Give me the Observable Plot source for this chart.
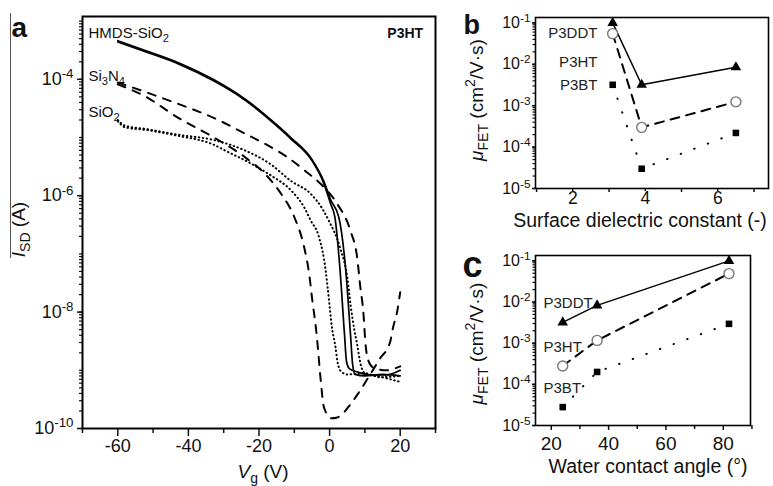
<!DOCTYPE html>
<html>
<head>
<meta charset="utf-8">
<script src="https://cdn.jsdelivr.net/npm/d3@7"></script>
<script src="https://cdn.jsdelivr.net/npm/@observablehq/plot@0.6"></script>
<style>
  html, body { margin: 0; padding: 0; background: #fff; }
  #fig { position: relative; width: 773px; height: 486px; overflow: hidden; background: #fff; }
  .panel { position: absolute; }
  .bar { position: absolute; left: 10px; top: 13px; height: 245px; border-left: 1px solid #555; }
</style>
</head>
<body>
<div id="fig">
  <div class="bar"></div>
  <div class="panel" id="pa" style="left:0;top:0"></div>
  <div class="panel" id="pb" style="left:455px;top:0"></div>
  <div class="panel" id="pc" style="left:455px;top:240px"></div>
</div>
<script>
const FONT = '"Liberation Sans", Arial, Helvetica, sans-serif';

// ---------- Panel a: transfer curves of P3HT (|I_SD| vs V_g) ----------
const hmds1V = [-60, -52, -43, -33, -24, -15, -11, -5, -1.6, 0.3, 1.5, 2.9, 4.2, 4.8, 5.6, 8, 12, 16, 20];
const hmds1I = [4.37e-4, 2.95e-4, 1.86e-4, 9.5e-5, 4.4e-5, 1.58e-5, 9.5e-6, 4.0e-6, 1.6e-6, 7.2e-7, 4.3e-7, 5.9e-8, 4.3e-9, 1.4e-9, 1.07e-9, 9.3e-10, 8.3e-10, 8.3e-10, 1.0e-9];
const hmds2V = [-60, -52, -43, -33, -24, -15, -11, -5, -1.6, 0.3, 2.6, 4.5, 5.9, 6.5, 7.2, 10, 15, 20];
const hmds2I = [4.6e-4, 3.1e-4, 1.95e-4, 1.0e-4, 4.6e-5, 1.66e-5, 1.0e-5, 4.2e-6, 1.75e-6, 8.5e-7, 4.3e-7, 5.9e-8, 4.3e-9, 1.3e-9, 8.5e-10, 8.0e-10, 8.5e-10, 8.0e-10];
const sin1V = [-60, -52, -43, -33, -24, -15, -12, -7, -1.6, 2.2, 5.9, 7.8, 8.7, 9.6, 10.1, 11, 12.5, 16, 20];
const sin1I = [8.8e-5, 6.0e-5, 3.8e-5, 2.2e-5, 1.17e-5, 6.0e-6, 4.6e-6, 2.7e-6, 1.4e-6, 7.2e-7, 2.5e-7, 8.7e-8, 2.7e-8, 9.3e-9, 3.2e-9, 1.45e-9, 1.1e-9, 1.0e-9, 1.17e-9];
const sin2V = [-60, -52, -43, -33, -24, -18.4, -13.7, -10, -7.2, -5.8, -4.9, -3.9, -3.5, -2.5, -1.6, 0.5, 2.2, 5.9, 8.1, 11.5, 14.3, 17.1, 18, 19.2, 20];
const sin2I = [8.2e-5, 5.0e-5, 2.2e-5, 1.02e-5, 4.6e-6, 2.4e-6, 1.07e-6, 4.3e-7, 1.3e-7, 4.6e-8, 1.6e-8, 5.5e-9, 3.2e-9, 6.6e-10, 2.3e-10, 1.5e-10, 1.55e-10, 2.6e-10, 4.0e-10, 8.5e-10, 1.6e-9, 3.0e-9, 5.5e-9, 1.07e-8, 2.2e-8];
const sio1V = [-60, -58, -52, -43, -33, -24, -16.5, -11, -5.3, -2, -0.2, 3, 5, 6, 7, 7.8, 8.8, 10, 15, 20];
const sio1I = [2.0e-5, 1.6e-5, 1.4e-5, 1.12e-5, 9.1e-6, 6.0e-6, 3.4e-6, 1.8e-6, 1.07e-6, 5.9e-7, 3.7e-7, 1.26e-7, 4.0e-8, 1.26e-8, 5.0e-9, 2.8e-9, 1.26e-9, 8.9e-10, 7.6e-10, 6.3e-10];
const sio2V = [-60, -58, -52, -43, -33, -28.7, -22, -18.4, -16.5, -10.9, -7.2, -5.3, -3, -1.1, -0.6, 0.8, 1.7, 2.2, 3.1, 5, 10, 14.3, 20];
const sio2I = [1.9e-5, 1.5e-5, 1.35e-5, 1.07e-5, 7.6e-6, 5.6e-6, 3.5e-6, 2.6e-6, 2.2e-6, 1.23e-6, 6.3e-7, 3.7e-7, 1.95e-7, 5.1e-8, 2.8e-8, 4.8e-9, 2.45e-9, 1.45e-9, 9.8e-10, 8.5e-10, 8.9e-10, 7.6e-10, 8.0e-10];

const aXTicks = [-60, -40, -20, 0, 20];
const aXMinor = [-70, -50, -30, -10, 10, 30];
const aYTicks = [1e-4, 1e-6, 1e-8, 1e-10];
const aLabels = ["HMDS-SiO_{2}", "Si_{3}N_{4}", "SiO_{2}"];
const aLabelV = [-68.3, -68.3, -68.3];
const aLabelI = [6.24e-4, 1.135e-4, 2.74e-5];
const aTag = ["P3HT"];
const aTagV = [26.5];
const aTagI = [6.24e-4];

// ---------- Panel b: mobility vs surface dielectric constant ----------
const bX = [3.1, 3.9, 6.5];
const bP3DDT = [0.1, 3.2e-3, 8.5e-3];
const bP3HT = [0.055, 3.0e-4, 1.24e-3];
const bP3BT = [3.2e-3, 3.0e-5, 2.2e-4];
const bXTicks = [2, 4, 6];
const bXMinor = [1, 3, 5, 7];
const bLabels = ["P3DDT", "P3HT", "P3BT"];
const bLabelX = [2.68, 2.68, 2.68];
const bLabelY = [0.0555, 0.0112, 0.0031];

// ---------- Panel c: mobility vs water contact angle ----------
const cX = [24, 36, 82];
const cP3DDT = [3.2e-3, 8.3e-3, 0.1];
const cP3HT = [2.8e-4, 1.17e-3, 0.049];
const cP3BT = [2.8e-5, 2.0e-4, 2.95e-3];
const cXTicks = [20, 40, 60, 80];
const cXMinor = [30, 50, 70, 90];
const cLabels = ["P3DDT", "P3HT", "P3BT"];
const cLabelX = [17.3, 17.3, 17.3];
const cLabelY = [9.2e-3, 8.0e-4, 7.9e-5];

const bcYTicks = [1e-1, 1e-2, 1e-3, 1e-4, 1e-5];

// ---------- helpers ----------
const zip = (xs, ys, extra = {}) => xs.map((x, k) => ({x, y: ys[k], ...extra}));
const labelsOf = (t, xs, ys) => t.map((s, k) => ({t: s, x: xs[k], y: ys[k]}));
const fmtPow = d => "10^{" + Math.round(Math.log10(d)) + "}";
const blank = () => "";

function richify(root) {
  for (const t of root.querySelectorAll("text")) {
    const s = t.textContent;
    if (!/[_^~]\{/.test(s) || t.querySelector("tspan")) continue;
    const fs = parseFloat(getComputedStyle(t).fontSize) || 16;
    t.textContent = "";
    let cur = 0, last = 0, m;
    const re = /([_^~])\{([^}]*)\}/g;
    const add = (txt, kind) => {
      if (!txt) return;
      const ts = document.createElementNS("http://www.w3.org/2000/svg", "tspan");
      const target = kind === "^" ? -0.38 * fs : kind === "_" ? 0.26 * fs : 0;
      if (target !== cur) ts.setAttribute("dy", (target - cur).toFixed(2));
      cur = target;
      if (kind === "^" || kind === "_") ts.setAttribute("font-size", (0.74 * fs).toFixed(2));
      if (kind === "~") ts.setAttribute("font-style", "italic");
      ts.textContent = txt;
      t.appendChild(ts);
    };
    while ((m = re.exec(s))) { add(s.slice(last, m.index), ""); add(m[2], m[1]); last = re.lastIndex; }
    add(s.slice(last), "");
  }
}

const baseStyle = {fontFamily: FONT, fontSize: "16px", color: "#111", background: "transparent", overflow: "visible"};
const T = {textAnchor: "middle", lineAnchor: "middle", fill: "#111"};

// ---------- Panel a ----------
const pa = Plot.plot({
  width: 450, height: 486,
  marginLeft: 82, marginRight: 15, marginTop: 16, marginBottom: 58,
  style: baseStyle,
  x: {domain: [-70, 30], axis: null},
  y: {type: "log", domain: [1e-10, 1.2e-3], axis: null},
  marks: [
    Plot.axisY({ticks: 40, tickSize: 3, tickFormat: blank, strokeWidth: 1.2, label: null}),
    Plot.axisY({ticks: aYTicks, tickSize: 5, tickPadding: 4, tickFormat: fmtPow, strokeWidth: 1.5, fontSize: 18, label: null}),
    Plot.axisX({ticks: aXMinor, tickSize: 5, tickFormat: blank, strokeWidth: 1.5, label: null}),
    Plot.axisX({ticks: aXTicks, tickSize: 8, tickPadding: 3, tickFormat: d => String(d), strokeWidth: 1.5, fontSize: 18, label: null}),
    Plot.frame({stroke: "#000", strokeWidth: 2}),
    Plot.line(zip(sio1V, sio1I), {x: "x", y: "y", stroke: "#000", strokeWidth: 2, strokeDasharray: "0.5,3.5", curve: "monotone-x"}),
    Plot.line(zip(sio2V, sio2I), {x: "x", y: "y", stroke: "#000", strokeWidth: 2, strokeDasharray: "0.5,3.5", curve: "monotone-x"}),
    Plot.line(zip(sin1V, sin1I), {x: "x", y: "y", stroke: "#000", strokeWidth: 2, strokeDasharray: "8,8", curve: "monotone-x"}),
    Plot.line(zip(sin2V, sin2I), {x: "x", y: "y", stroke: "#000", strokeWidth: 2, strokeDasharray: "8,8", curve: "monotone-x"}),
    Plot.line(zip(hmds1V, hmds1I), {x: "x", y: "y", stroke: "#000", strokeWidth: 1.7, curve: "monotone-x"}),
    Plot.line(zip(hmds2V, hmds2I), {x: "x", y: "y", stroke: "#000", strokeWidth: 1.7, curve: "monotone-x"}),
    Plot.text(labelsOf(aLabels, aLabelV, aLabelI), {x: "x", y: "y", text: "t", textAnchor: "start", fontSize: 15, fill: "#111"}),
    Plot.text(labelsOf(aTag, aTagV, aTagI), {x: "x", y: "y", text: "t", textAnchor: "end", fontSize: 14, fontWeight: "bold", fill: "#111"}),
    Plot.text(["a"], {...T, frameAnchor: "top-left", dx: -71, dy: 11.5, textAnchor: "start", fontSize: 28, fontWeight: "bold"}),
    Plot.text(["~{V}_{g} (V)"], {...T, frameAnchor: "bottom", dx: 4, dy: 43, fontSize: 19}),
    Plot.text(["~{I}_{SD} (A)"], {...T, frameAnchor: "left", dx: -64, dy: 7, rotate: -90, fontSize: 19})
  ]
});

// ---------- Panels b and c ----------
function mobilityMarks(xs, s1, s2, s3) {
  return [
    Plot.line(zip(xs, s3), {x: "x", y: "y", stroke: "#000", strokeWidth: 2, strokeDasharray: "0.5,14"}),
    Plot.line(zip(xs, s2), {x: "x", y: "y", stroke: "#000", strokeWidth: 2, strokeDasharray: "9,7"}),
    Plot.line(zip(xs, s1), {x: "x", y: "y", stroke: "#000", strokeWidth: 1.5}),
    Plot.dot(zip(xs, s1), {x: "x", y: "y", symbol: "triangle", r: 3.9, fill: "#000", stroke: "none"}),
    Plot.dot(zip(xs, s2), {x: "x", y: "y", symbol: "circle", r: 5, fill: "#fff", stroke: "#777", strokeWidth: 1.4}),
    Plot.dot(zip(xs, s3), {x: "x", y: "y", symbol: "square", r: 3.7, fill: "#000", stroke: "none"})
  ];
}

const pb = Plot.plot({
  width: 318, height: 240,
  marginLeft: 80, marginRight: 5, marginTop: 17, marginBottom: 52,
  style: baseStyle,
  x: {domain: [0.97, 7.4], axis: null},
  y: {type: "log", domain: [1e-5, 0.135], axis: null},
  marks: [
    Plot.axisY({ticks: 40, tickSize: 2.5, tickFormat: blank, strokeWidth: 1.2, label: null}),
    Plot.axisY({ticks: bcYTicks, tickSize: 3, tickPadding: 2, tickFormat: fmtPow, strokeWidth: 1.5, fontSize: 16, label: null}),
    Plot.axisX({ticks: bXMinor, tickSize: 4, tickFormat: blank, strokeWidth: 1.5, label: null}),
    Plot.axisX({ticks: bXTicks, tickSize: 3, tickPadding: 0, tickFormat: d => String(d), strokeWidth: 1.5, fontSize: 17.5, label: null}),
    Plot.frame({stroke: "#000", strokeWidth: 1.6}),
    ...mobilityMarks(bX, bP3DDT, bP3HT, bP3BT),
    Plot.text(labelsOf(bLabels, bLabelX, bLabelY), {x: "x", y: "y", text: "t", textAnchor: "end", fontSize: 15, fill: "#222"}),
    Plot.text(["b"], {...T, frameAnchor: "top-left", dx: -72, dy: 7.4, textAnchor: "start", fontSize: 27, fontWeight: "bold"}),
    Plot.text(["Surface dielectric constant (-)"], {...T, frameAnchor: "bottom", dx: -12, dy: 32, fontSize: 19.5}),
    Plot.text(["~{μ}_{FET} (cm^{2}/V·s)"], {...T, frameAnchor: "left", dx: -59, dy: -3, rotate: -90, fontSize: 19})
  ]
});

const pc = Plot.plot({
  width: 318, height: 246,
  marginLeft: 80, marginRight: 23, marginTop: 15, marginBottom: 61,
  style: baseStyle,
  x: {domain: [14.5, 89.5], axis: null},
  y: {type: "log", domain: [1e-5, 0.135], axis: null},
  marks: [
    Plot.axisY({ticks: 40, tickSize: 2.5, tickFormat: blank, strokeWidth: 1.2, label: null}),
    Plot.axisY({ticks: bcYTicks, tickSize: 3, tickPadding: 2, tickFormat: fmtPow, strokeWidth: 1.5, fontSize: 16, label: null}),
    Plot.axisX({ticks: cXMinor, tickSize: 4, tickFormat: blank, strokeWidth: 1.5, label: null}),
    Plot.axisX({ticks: cXTicks, tickSize: 5, tickPadding: 6, tickFormat: d => String(d), strokeWidth: 1.5, fontSize: 19, label: null}),
    Plot.frame({stroke: "#000", strokeWidth: 1.6}),
    ...mobilityMarks(cX, cP3DDT, cP3HT, cP3BT),
    Plot.text(labelsOf(cLabels, cLabelX, cLabelY), {x: "x", y: "y", text: "t", textAnchor: "start", fontSize: 15, fill: "#222"}),
    Plot.text(["c"], {...T, frameAnchor: "top-left", dx: -73, dy: 10, textAnchor: "start", fontSize: 36, fontWeight: "bold"}),
    Plot.text(["Water contact angle (°)"], {...T, frameAnchor: "bottom", dx: 5, dy: 41, fontSize: 19.5}),
    Plot.text(["~{μ}_{FET} (cm^{2}/V·s)"], {...T, frameAnchor: "left", dx: -59, dy: 3, rotate: -90, fontSize: 19})
  ]
});

document.getElementById("pa").appendChild(pa);
document.getElementById("pb").appendChild(pb);
document.getElementById("pc").appendChild(pc);
richify(document.getElementById("fig"));
</script>
</body>
</html>
